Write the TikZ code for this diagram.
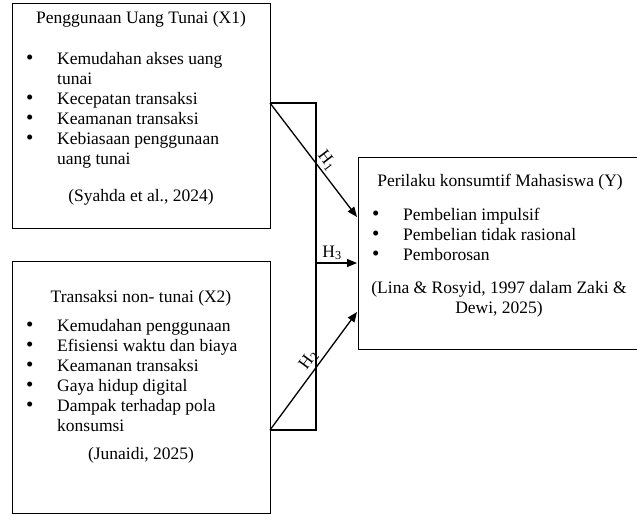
\documentclass[tikz,border=0pt]{standalone}
\usepackage{fontspec}
\usepackage{graphicx}
\setmainfont{Liberation Serif}
\usetikzlibrary{arrows.meta}
\newcommand\bitem{\raisebox{-0.8pt}{\scalebox{1.2}{\textbullet}}}
\begin{document}
\begin{tikzpicture}[x=1pt,y=-1pt,
  every node/.style={font=\fontsize{17.5}{20}\selectfont, inner sep=0pt},
  boxy/.style={draw, line width=1.3pt, anchor=north west},
  arr/.style={line width=1.3pt, -{Triangle[length=10pt,width=8pt]}},
  bline/.style={line width=1.3pt},
  lab/.style={inner sep=2.5pt}]
\useasboundingbox (0,0) rectangle (637,515);
% boxes
\node[boxy, minimum width=258pt, minimum height=225pt] (x1) at (12,3) {};
\node[boxy, minimum width=258pt, minimum height=252pt] (x2) at (12,261) {};
\node[boxy, minimum width=282pt, minimum height=192pt] (y) at (358,157) {};
% box 1 text
\node[anchor=base] (t1) at (141,23) {Penggunaan Uang Tunai (X1)};
\node[anchor=base west] (l1) at (26,64) {\begin{tabular}[t]{@{}p{31pt}@{}l@{}}
\bitem & Kemudahan akses uang\\
 & tunai\\
\bitem & Kecepatan transaksi\\
\bitem & Keamanan transaksi\\
\bitem & Kebiasaan penggunaan\\
 & uang tunai
\end{tabular}};
\node[anchor=base] (s1) at (141,201) {(Syahda et al., 2024)};
% box 2 text
\node[anchor=base] (t2) at (141,302) {Transaksi non- tunai (X2)};
\node[anchor=base west] (l2) at (26,331) {\begin{tabular}[t]{@{}p{31pt}@{}l@{}}
\bitem & Kemudahan penggunaan\\
\bitem & Efisiensi waktu dan biaya\\
\bitem & Keamanan transaksi\\
\bitem & Gaya hidup digital\\
\bitem & Dampak terhadap pola\\
 & konsumsi
\end{tabular}};
\node[anchor=base] (s2) at (141,459) {(Junaidi, 2025)};
% box Y text
\node[anchor=base] (ty) at (500,186) {Perilaku konsumtif Mahasiswa (Y)};
\node[anchor=base west] (ly) at (372,220) {\begin{tabular}[t]{@{}p{31pt}@{}l@{}}
\bitem & Pembelian impulsif\\
\bitem & Pembelian tidak rasional\\
\bitem & Pemborosan
\end{tabular}};
\node[anchor=base] (sy) at (499,293) {\begin{tabular}[t]{@{}c@{}}(Lina \& Rosyid, 1997 dalam Zaki \&\\ Dewi, 2025)\end{tabular}};
% bracket
\coordinate (bt) at (270,103);
\coordinate (brt) at (316,103);
\coordinate (brb) at (316,430);
\coordinate (bb) at (270,430);
\coordinate (b3) at (316,263);
\draw[bline] (bt) -- (brt) -- (brb) -- (bb);
% arrow targets
\coordinate (ya) at (357,217);
\coordinate (yb) at (357,263);
\coordinate (yc) at (357,312);
\draw[arr] (bt) -- node[lab, sloped, above, pos=0.56] (h1) {H\textsubscript{1}} (ya);
\draw[arr] (b3) -- node[lab, above, pos=0.39] (h3) {H\textsubscript{3}} (yb);
\draw[arr] (bb) -- node[lab, sloped, above, pos=0.54] (h2) {H\textsubscript{2}} (yc);
\end{tikzpicture}
\end{document}
